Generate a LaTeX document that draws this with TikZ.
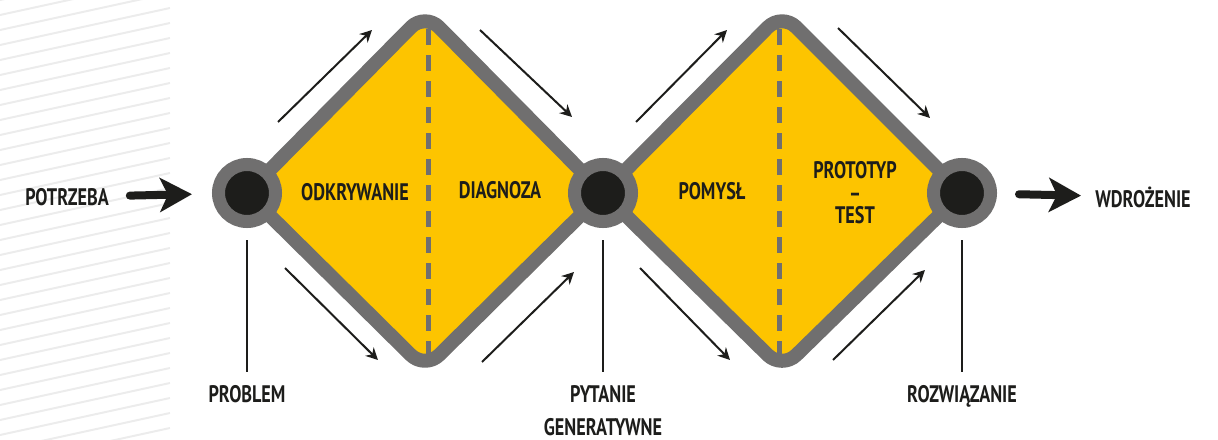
\documentclass[tikz,border=0pt]{standalone}
\usepackage{fontspec}
\setmainfont{PT Sans}[FakeStretch=0.76]
\usepackage{tikz}
\usetikzlibrary{arrows.meta, positioning, calc}
\definecolor{ddyellow}{RGB}{253, 196, 0}
\definecolor{ddgray}{RGB}{112, 111, 111}
\definecolor{dddark}{RGB}{29, 29, 27}
\definecolor{ddhatch}{RGB}{236, 236, 236}

\begin{document}
\begin{tikzpicture}[
    x=0.025cm, y=-0.025cm,
    diam/.style={draw=ddgray, fill=ddyellow, line width=0.35cm,
                 rounded corners=0.5cm, line join=round},
    split/.style={draw=ddgray, line width=0.125cm,
                  dash pattern=on 0.4cm off 0.25cm},
    hub/.style={circle, draw=ddgray, fill=dddark, line width=0.325cm,
                minimum size=1.425cm, inner sep=0pt},
    lbl/.style={font=\fontsize{17}{20}\selectfont\bfseries, text=dddark,
                align=center, inner sep=2pt},
    flow/.style={-{Stealth[length=0.3cm, width=0.3cm]},
                 line width=0.05cm, draw=dddark},
    bigarr/.style={-{Stealth[length=0.8cm, width=0.85cm, inset=0.2cm]},
                   line width=0.2cm, line cap=round, draw=dddark},
    stem/.style={line width=0.05cm, draw=dddark},
    hatch/.style={draw=ddhatch, line width=0.05cm},
  ]
    \useasboundingbox (0,0) rectangle (1218,440);

    % Hatched strip on the left
    \begin{scope}
      \clip (0,0) rectangle (170,440);
      \foreach \y in {0,15,...,480}
        \draw[hatch] (0,\y) -- (170,\y-37);
    \end{scope}

    % The two diamonds
    \coordinate (p1) at (247,193);
    \coordinate (p2) at (603,193);
    \coordinate (p3) at (962,193);
    \draw[diam] (p1) -- (425,13) -- (p2) -- (425,369) -- cycle;
    \draw[diam] (p2) -- (782,13) -- (p3) -- (782,369) -- cycle;
    \draw[split] (428,29) -- (428,362);
    \draw[split] (779,29) -- (779,362);

    % Hubs
    \node[hub] (problem) at (p1) {};
    \node[hub] (pytanie) at (p2) {};
    \node[hub] (rozw)    at (p3) {};

    % Phase labels
    \node[lbl] (odkr)  at (355,192) {ODKRYWANIE};
    \node[lbl] (diag)  at (500,190) {DIAGNOZA};
    \node[lbl] (pomysl) at (712,191) {POMYSŁ};
    \node[lbl, font=\fontsize{17}{16}\selectfont\bfseries] (proto)
      at (855,193) {PROTOTYP\\–\\TEST};

    % In and out
    \node[lbl] (potrzeba) at (67,197)  {POTRZEBA};
    \node[lbl] (wdroz)    at (1143,197) {WDROŻENIE};
    \draw[bigarr, shorten <=0.45cm, shorten >=0.5cm] (potrzeba) -- (problem);
    \draw[bigarr, shorten <=0.55cm, shorten >=0.28cm] (rozw) -- (wdroz);

    % Labels under the hubs
    \node[lbl, below=3.85cm of problem] (problbl) {PROBLEM};
    \node[lbl, below=3.85cm of pytanie,
          font=\fontsize{17}{23.5}\selectfont\bfseries] (pytlbl)
      {PYTANIE\\GENERATYWNE};
    \node[lbl, below=3.85cm of rozw] (rozwlbl) {ROZWIĄZANIE};
    \draw[stem, shorten <=0.3cm, shorten >=0.25cm] (problem) -- (problbl);
    \draw[stem, shorten <=0.3cm, shorten >=0.25cm] (pytanie) -- (pytlbl);
    \draw[stem, shorten <=0.3cm, shorten >=0.25cm] (rozw) -- (rozwlbl);

    % Arrows along the edges
    \foreach \n/\sx/\sy/\ex/\ey in {a/278/122/372/30, b/480/30/572/117,
        c/285/268/378/360, d/482/362/574/272, e/636/122/727/30,
        f/838/28/930/118, g/640/268/730/360, h/833/360/925/270} {
      \coordinate (f\n s) at (\sx,\sy);
      \coordinate (f\n e) at (\ex,\ey);
      \draw[flow] (f\n s) -- (f\n e);
    }
  \end{tikzpicture}
\end{document}
